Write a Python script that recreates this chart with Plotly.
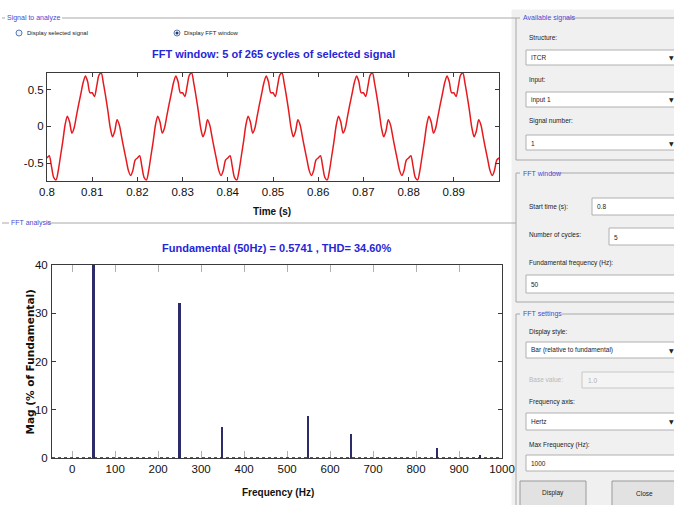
import plotly.graph_objects as go

# ---------------- data ----------------
time_start = 0.8
time_step = 0.0005
signal_values = [
    -0.43, -0.40, -0.55, -0.70, -0.73, -0.60, -0.40, -0.20, 0.02, 0.14, 0.06, -0.09, -0.02, 0.14, 0.30, 0.45, 0.60, 0.69, 0.61, 0.46,
    0.46, 0.41, 0.55, 0.70, 0.73, 0.58, 0.40, 0.20, -0.02, -0.14, -0.06, 0.09, 0.02, -0.14, -0.30, -0.45, -0.60, -0.67, -0.60, -0.46,
    -0.43, -0.40, -0.55, -0.70, -0.73, -0.60, -0.40, -0.20, 0.02, 0.14, 0.06, -0.09, -0.02, 0.14, 0.30, 0.45, 0.60, 0.69, 0.61, 0.46,
    0.46, 0.41, 0.55, 0.70, 0.73, 0.58, 0.40, 0.20, -0.02, -0.14, -0.06, 0.09, 0.02, -0.14, -0.30, -0.45, -0.60, -0.67, -0.60, -0.46,
    -0.43, -0.40, -0.55, -0.70, -0.73, -0.60, -0.40, -0.20, 0.02, 0.14, 0.06, -0.09, -0.02, 0.14, 0.30, 0.45, 0.60, 0.69, 0.61, 0.46,
    0.46, 0.41, 0.55, 0.70, 0.73, 0.58, 0.40, 0.20, -0.02, -0.14, -0.06, 0.09, 0.02, -0.14, -0.30, -0.45, -0.60, -0.67, -0.60, -0.46,
    -0.43, -0.40, -0.55, -0.70, -0.73, -0.60, -0.40, -0.20, 0.02, 0.14, 0.06, -0.09, -0.02, 0.14, 0.30, 0.45, 0.60, 0.69, 0.61, 0.46,
    0.46, 0.41, 0.55, 0.70, 0.73, 0.58, 0.40, 0.20, -0.02, -0.14, -0.06, 0.09, 0.02, -0.14, -0.30, -0.45, -0.60, -0.67, -0.60, -0.46,
    -0.43, -0.40, -0.55, -0.70, -0.73, -0.60, -0.40, -0.20, 0.02, 0.14, 0.06, -0.09, -0.02, 0.14, 0.30, 0.45, 0.60, 0.69, 0.61, 0.46,
    0.46, 0.41, 0.55, 0.70, 0.73, 0.58, 0.40, 0.20, -0.02, -0.14, -0.06, 0.09, 0.02, -0.14, -0.30, -0.45, -0.60, -0.67, -0.60, -0.46,
    -0.43,
]
time_values = [time_start + i * time_step for i in range(len(signal_values))]

time_ticks = [0.80, 0.81, 0.82, 0.83, 0.84, 0.85, 0.86, 0.87, 0.88, 0.89]
time_tick_labels = ["0.8", "0.81", "0.82", "0.83", "0.84", "0.85", "0.86", "0.87", "0.88", "0.89"]
signal_ticks = [-0.5, 0, 0.5]
signal_tick_labels = ["-0.5", "0", "0.5"]

harmonic_freqs = [50, 250, 350, 550, 650, 850, 950]
harmonic_mags = [100.0, 32.2, 6.4, 8.7, 5.0, 2.1, 0.6]
freq_ticks = [0, 100, 200, 300, 400, 500, 600, 700, 800, 900, 1000]
mag_ticks = [0, 10, 20, 30, 40]

title_top = "FFT window: 5 of 265 cycles of selected signal"
title_bottom = "Fundamental (50Hz) = 0.5741 , THD= 34.60%"

# ---------------- helpers ----------------
W, H = 674, 505
def px(x): return x / W
def py(y): return 1 - y / H

NARROW = "Liberation Sans Narrow, Arial Narrow, Liberation Sans, sans-serif"
GUI_BLUE = "#4a4ad0"
TITLE_BLUE = "#2626d8"
FRAME = "#a8a8a8"

shapes = []
annotations = []

def rect(x0, y0, x1, y1, fill="white", line="#b0b0b0", lw=1):
    shapes.append(dict(type="rect", xref="paper", yref="paper", x0=px(x0), x1=px(x1), y0=py(y1), y1=py(y0),
                       fillcolor=fill, line=dict(color=line, width=lw), layer="below"))

def hline(x0, x1, y, color=FRAME, lw=1):
    shapes.append(dict(type="line", xref="paper", yref="paper", x0=px(x0), x1=px(x1), y0=py(y), y1=py(y),
                       line=dict(color=color, width=lw), layer="below"))

def vline(x, y0, y1, color=FRAME, lw=1):
    shapes.append(dict(type="line", xref="paper", yref="paper", x0=px(x), x1=px(x), y0=py(y0), y1=py(y1),
                       line=dict(color=color, width=lw), layer="below"))

def text(x, y, s, size=7, color="#222", xanchor="left", family=NARROW, bold=False, angle=0):
    if bold:
        s = "<b>" + s + "</b>"
    annotations.append(dict(x=px(x), y=py(y), xref="paper", yref="paper", text=s, showarrow=False,
                            xanchor=xanchor, yanchor="middle", textangle=angle,
                            font=dict(size=size, color=color, family=family)))

def arrow(x, y):
    text(x, y, "\u25bc", size=6, color="#222", xanchor="center", family="DejaVu Sans")

# ---------------- GUI chrome ----------------
rect(512, 10, 674, 505, fill="#f0f0f0", line="#f0f0f0")

# left frames
hline(2, 5, 18)
text(5, 18, "Signal to analyze", size=7, color=GUI_BLUE)
hline(62, 516, 18)
hline(2, 9, 223)
text(9, 223, "FFT analysis", size=7, color=GUI_BLUE)
hline(46, 516, 223)

# radio buttons
shapes.append(dict(type="circle", xref="paper", yref="paper", x0=px(16), x1=px(22), y0=py(36), y1=py(30),
                   fillcolor="#eef4ff", line=dict(color="#5a7ab0", width=1)))
shapes.append(dict(type="circle", xref="paper", yref="paper", x0=px(174), x1=px(180), y0=py(36), y1=py(30),
                   fillcolor="#eef4ff", line=dict(color="#5a7ab0", width=1)))
shapes.append(dict(type="circle", xref="paper", yref="paper", x0=px(175.5), x1=px(178.5), y0=py(34.5), y1=py(31.5),
                   fillcolor="#2a3a70", line=dict(color="#2a3a70", width=0)))
text(25, 33, "Display selected signal", size=6)
text(182, 33, "Display FFT window", size=6)

# right: Available signals
vline(516, 18, 160)
hline(516, 520, 18)
text(521, 18, "Available signals", size=7, color=GUI_BLUE)
hline(566, 674, 18)
hline(516, 674, 160)
text(527, 38, "Structure:", size=6.5)
rect(526, 50, 676, 65)
text(529, 57.5, "ITCR", size=6.5)
arrow(671, 58)
text(527, 80, "Input:", size=6.5)
rect(526, 92, 676, 107)
text(529, 100, "input 1", size=6.5)
arrow(671, 100)
text(527, 121, "Signal number:", size=6.5)
rect(526, 135, 676, 150)
text(529, 143, "1", size=6.5)
arrow(671, 143)

# right: FFT window
vline(516, 173, 302)
hline(516, 520, 173)
text(521, 173, "FFT window", size=7, color=GUI_BLUE)
hline(551, 674, 173)
hline(516, 674, 302)
text(527, 207, "Start time (s):", size=6.5)
rect(592, 198, 676, 215)
text(595, 207, "0.8", size=6.5)
text(527, 235, "Number of cycles:", size=6.5)
rect(609, 228, 676, 245)
text(612, 237, "5", size=6.5)
text(527, 263, "Fundamental frequency (Hz):", size=6.5)
rect(526, 275, 676, 293)
text(529, 284, "50", size=6.5)

# right: FFT settings
vline(516, 314, 505)
hline(516, 520, 314)
text(521, 314, "FFT settings", size=7, color=GUI_BLUE)
hline(562, 674, 314)
text(527, 332, "Display style:", size=6.5)
rect(526, 342, 676, 358)
text(529, 350, "Bar (relative to fundamental)", size=6.5)
arrow(671, 350)
text(527, 379, "Base value:", size=6.5, color="#b8b8b8")
rect(582, 372, 676, 388, fill="#f4f4f4", line="#c8c8c8")
text(586, 380, "1.0", size=6.5, color="#b0b0b0")
text(527, 402, "Frequency axis:", size=6.5)
rect(526, 413, 676, 430)
text(529, 421, "Hertz", size=6.5)
arrow(671, 421)
text(527, 445, "Max Frequency (Hz):", size=6.5)
rect(526, 455, 676, 471)
text(529, 463, "1000", size=6.5)
rect(520, 481, 586, 507, fill="#e2e2e2", line="#9a9a9a")
text(553, 493, "Display", size=6.5, xanchor="center")
rect(612, 481, 676, 507, fill="#e2e2e2", line="#9a9a9a")
text(644, 493, "Close", size=6.5, xanchor="center")

# titles and axis labels
text(273, 54, title_top, size=11, color=TITLE_BLUE, xanchor="center", bold=True)
text(276, 248, title_bottom, size=11, color=TITLE_BLUE, xanchor="center", bold=True)
text(272, 212, "Time (s)", size=10, color="#111", xanchor="center", bold=True)
text(278, 492, "Frequency (Hz)", size=10, color="#111", xanchor="center", bold=True)
text(29, 362.5, "Mag (% of Fundamental)", size=10.5, color="#111", xanchor="center", bold=True, angle=-90,
     family="DejaVu Sans")

# dotted baseline of spectrum
shapes.append(dict(type="line", xref="x2 domain", yref="y2", x0=0, x1=1, y0=0, y1=0,
                   line=dict(color="#222", width=1.5, dash="dot")))

# ---------------- figure ----------------
fig = go.Figure()
fig.add_trace(go.Scatter(x=time_values, y=signal_values, mode="lines",
                         line=dict(color="#e61a1e", width=1.5, shape="spline", smoothing=0.8),
                         xaxis="x", yaxis="y", showlegend=False, hoverinfo="skip"))
fig.add_trace(go.Bar(x=harmonic_freqs, y=harmonic_mags, width=4,
                     marker=dict(color="#2c2c6a", line=dict(width=0)),
                     xaxis="x2", yaxis="y2", showlegend=False, hoverinfo="skip"))

axis_common = dict(showline=True, mirror="ticks", linecolor="#3a3a3a", linewidth=1, ticks="inside",
                   showgrid=False, zeroline=False, automargin=False,
                   tickfont=dict(family=NARROW, size=11.5, color="#111"))

fig.update_layout(
    width=W, height=H, margin=dict(l=0, r=0, t=0, b=0, autoexpand=False),
    paper_bgcolor="white", plot_bgcolor="white",
    xaxis=dict(domain=[px(47), px(499)], anchor="y", range=[0.8, 0.9],
               tickvals=time_ticks, ticktext=time_tick_labels, ticklen=4, tickcolor="#3a3a3a", **axis_common),
    yaxis=dict(domain=[py(181), py(73)], anchor="x", range=[-0.745, 0.73],
               tickvals=signal_ticks, ticktext=signal_tick_labels, ticklen=4, tickcolor="#3a3a3a", **axis_common),
    xaxis2=dict(domain=[px(52), px(502)], anchor="y2", range=[-47, 1000],
                tickvals=freq_ticks, ticklen=7, tickcolor="#b0b0b0", **axis_common),
    yaxis2=dict(domain=[py(458), py(265)], anchor="x2", range=[0, 40],
                tickvals=mag_ticks, ticklen=4, tickcolor="#3a3a3a", ticklabelstandoff=1, **axis_common),
    shapes=shapes, annotations=annotations,
    bargap=0,
)

fig.write_html("out.html")
